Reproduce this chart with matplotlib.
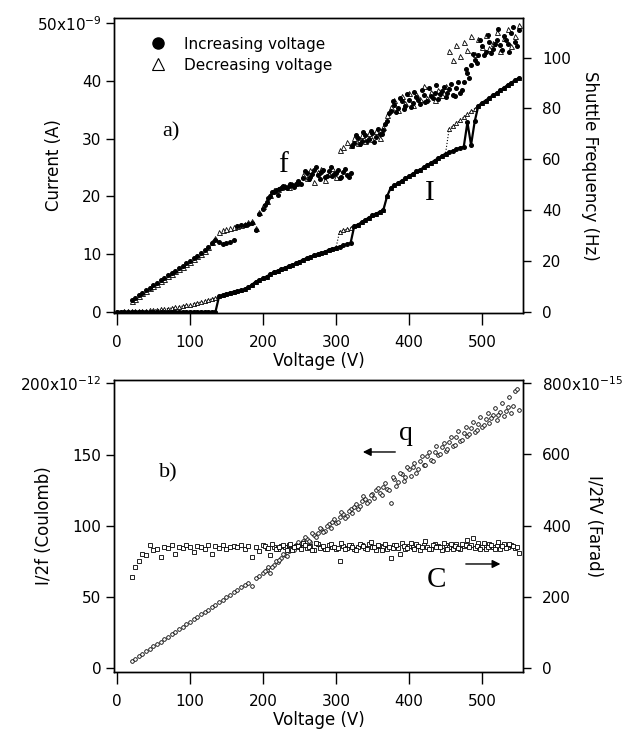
import numpy as np
import matplotlib
matplotlib.use('Agg')
import matplotlib.pyplot as plt
from matplotlib.lines import Line2D

plt.rcParams['font.family'] = 'DejaVu Sans'

# Voltage sweep steps (V)
volt_I = np.arange(0, 555, 5)        # current traces, 111 points
volt_f = np.arange(20, 555, 5)       # frequency, q and C, 107 points
volt_b = np.arange(202.5, 550, 5)    # second pass above 200 V, 70 points

# Current (nA), increasing voltage
I_up = [0.0] * 28 + [
    2.7, 2.9, 3.1, 3.3, 3.45, 3.6, 3.75, 3.9, 4.2, 4.7, 5.2, 5.5, 5.8, 6.1, 6.5, 6.9,
    7.1, 7.4, 7.6, 7.9, 8.1, 8.4, 8.7, 9.0, 9.3, 9.5, 9.8, 10.0, 10.2, 10.4, 10.7, 10.9, 11.1,
    11.3, 11.5, 11.7, 11.9,
    14.8, 15.1, 15.5, 15.9, 16.3, 16.7, 17.0, 17.3, 17.7,
    20.0, 21.5, 21.9, 22.3, 22.7, 23.1, 23.5, 23.9, 24.3, 24.6, 25.0, 25.4, 25.8, 26.2, 26.6, 27.0, 27.4,
    27.6, 27.9, 28.2, 28.4, 28.6, 32.8, 28.9,
    33.0, 35.7, 36.2, 36.6, 37.1, 37.5, 37.9, 38.4, 38.8, 39.3, 39.7, 40.1, 40.5]

# Current (nA), decreasing voltage
I_dn = [
    0.0, 0.02, 0.04, 0.06, 0.08, 0.1, 0.13, 0.16, 0.2, 0.24, 0.29, 0.34, 0.4, 0.47,
    0.55, 0.64, 0.74, 0.85, 0.97, 1.1, 1.23, 1.37, 1.52, 1.68, 1.85, 2.03, 2.22, 2.45,
    2.7, 2.9, 3.1, 3.3, 3.45, 3.6, 3.75, 3.9, 4.2, 4.7, 5.2, 5.5, 5.8, 6.1, 6.5, 6.9,
    7.1, 7.4, 7.6, 7.9, 8.1, 8.4, 8.7, 9.0, 9.3, 9.5, 9.8, 10.0, 10.2, 10.4, 10.7, 10.9, 11.1,
    13.9, 14.1, 14.3, 14.5, 14.8, 15.1, 15.5, 15.9, 16.3, 16.7, 17.0, 17.3, 17.7,
    20.0, 21.5, 21.9, 22.3, 22.7, 23.1, 23.5, 23.9, 24.3, 24.6, 25.0, 25.4, 25.8, 26.2, 26.6, 27.0, 27.4,
    31.7, 32.2, 32.7, 33.2, 33.7, 34.2, 34.7, 35.2, 35.7, 36.2, 36.6, 37.1, 37.5, 37.9,
    38.4, 38.8, 39.3, 39.7, 40.1, 40.5]

# Shuttle frequency (Hz), increasing voltage
f_up = [
    4.4, 5.3, 6.4, 7.4, 8.3, 9.4, 10.3, 11.2, 12.3, 13.1, 14.2, 15.1, 16.0, 17.0, 17.9,
    19.0, 19.8, 20.9, 22.0, 23.0, 24.2, 25.3, 26.8,
    28.3, 27.2, 26.6, 27.0, 27.5, 28.0, 33.5, 34.0, 34.2, 34.6, 35.0, 32.0, 38.5, 40.5,
    43.0, 45.5, 47.2, 46.0, 48.8, 49.2, 49.4, 49.9, 50.3, 50.8, 52.5, 54.5, 53.0, 55.8,
    53.6, 54.9, 52.8, 55.5, 53.4, 54.7, 52.6, 55.1, 53.8, 54.6,
    66.5, 68.2, 67.0, 69.4, 68.1, 70.2, 68.8, 69.9, 71.5, 75.0,
    79.0, 81.5, 80.2, 82.8, 81.0, 83.5, 82.1, 84.6, 81.9, 85.2, 83.0, 84.8, 86.1, 83.7,
    86.9, 84.5, 87.6, 85.3, 88.0, 86.2, 90.5, 93.8, 96.9, 99.0, 101.2, 104.5, 102.3,
    106.0, 103.4, 107.1, 104.8, 108.6, 105.2, 109.5, 106.3, 110.8]

# Shuttle frequency (Hz), increasing voltage, second pass (volt_b)
f_up_b = [
    42.0, 44.8, 47.0, 47.8, 48.3, 49.5, 48.6, 50.2, 49.0, 51.3,
    50.2, 55.2, 52.1, 54.3, 56.8, 52.0, 55.9, 53.2, 57.0, 54.0,
    55.6, 53.1, 56.3, 52.9, 65.2, 69.5, 65.9, 70.8, 67.3, 71.2,
    66.9, 72.0, 70.1, 73.8, 78.1, 83.0, 78.6, 84.1, 79.9, 85.5,
    80.7, 86.3, 83.4, 87.2, 82.5, 88.0, 84.0, 89.1, 85.6, 88.3,
    86.0, 89.6, 84.9, 90.2, 87.4, 95.6, 92.0, 101.5, 98.0, 106.8,
    100.9, 109.0, 101.7, 105.4, 111.2, 103.0, 106.9, 102.4, 112.0, 104.6]

# Shuttle frequency (Hz), decreasing voltage
f_dn = [
    4.0, 5.0, 6.0, 7.1, 8.0, 9.1, 10.0, 11.0, 12.0, 12.9, 13.9, 14.9, 15.8, 16.8, 17.7,
    18.7, 19.6, 20.6, 21.7, 22.7, 24.0, 25.6, 27.2,
    29.0, 31.5, 32.2, 32.5, 33.0, 33.3, 33.8, 34.1, 34.5, 35.2, 35.8, 33.0, 39.2, 41.5,
    43.6, 46.0, 48.0, 48.4, 48.9, 49.6, 49.2, 50.1, 50.6, 51.0, 53.8, 52.4, 55.6, 51.2,
    54.8, 56.2, 51.9, 54.2, 56.6, 52.8,
    63.8, 64.9, 66.6, 65.4, 68.5, 66.3, 69.6, 67.1, 70.5, 67.8, 70.9, 68.4, 72.6, 77.5,
    80.5, 83.2, 79.5, 84.7, 82.0, 86.2, 81.4, 85.6, 83.8, 88.8, 84.0, 86.5, 83.2, 87.4,
    85.1, 89.0,
    102.5, 99.0, 104.8, 100.5, 106.2, 103.1, 108.4, 101.6, 107.3, 104.0, 109.1, 103.6,
    105.9, 110.2, 102.8, 107.9, 111.4, 104.4, 108.7, 113.0]

# I/2f (pC)
q = [
    4.9, 6.7, 8.4, 10.0, 11.9, 13.5, 15.3, 17.0, 18.6, 20.5, 22.1, 23.9, 25.5, 27.3, 29.0,
    30.8, 32.4, 34.3, 35.9, 37.8, 39.3, 41.2, 42.8, 44.6, 46.3, 48.0, 49.8, 51.4, 53.3,
    54.9, 56.7, 58.2, 60.1,
    57.5, 63.5, 65.0, 67.1, 69.0, 66.8, 72.6, 74.4, 77.1, 79.6, 82.3, 84.0, 86.7, 85.2,
    89.4, 90.8, 88.6, 93.5, 95.1, 97.8, 96.2, 101.3, 103.0, 101.8, 106.4, 108.2, 107.0,
    111.6, 113.4, 112.1, 117.3, 119.0, 117.6, 122.4, 124.8,
    123.2, 127.5, 126.0, 116.0, 132.8, 130.4, 136.1, 134.5, 139.8, 141.5, 137.2, 145.6,
    143.0, 148.9, 146.3, 152.0, 149.4, 155.3, 152.8, 158.6, 156.1, 162.0, 159.3, 165.2,
    162.7, 168.4, 166.0, 171.5, 169.1, 174.8, 172.0, 177.6, 174.3, 180.2, 177.0, 183.5,
    179.4, 194.5, 181.5]

# I/2f (pC), second pass (volt_b)
q_b = [
    68.5, 70.9, 71.4, 75.2, 76.0, 80.1, 79.0, 84.6, 83.2, 88.9,
    87.0, 92.3, 89.5, 94.8, 92.1, 98.6, 95.4, 100.2, 98.7, 105.1,
    102.6, 109.5, 105.8, 110.3, 109.2, 115.4, 114.0, 120.6, 116.2, 121.9,
    119.3, 126.4, 121.7, 129.8, 125.0, 133.9, 127.6, 137.4, 131.2, 141.6,
    135.0, 144.3, 140.1, 149.0, 142.7, 151.5, 145.8, 155.9, 150.1, 158.0,
    153.7, 162.4, 157.0, 166.5, 160.2, 169.6, 164.1, 172.9, 167.5, 176.3,
    171.0, 179.2, 175.6, 183.0, 178.1, 186.4, 180.9, 190.2, 184.3, 196.0]

# I/2fV (fF)
C = [
    255, 285, 300, 322, 318, 345, 332, 336, 312, 340,
    338, 345, 322, 341, 337, 346, 339, 327, 344, 340,
    335, 347, 320, 342, 338, 345, 336, 341, 344, 339,
    347, 335, 342, 312, 340, 330, 345, 338, 318, 341,
    336, 343, 339, 346, 331, 342, 340, 352, 337, 344,
    333, 348, 339, 335, 345, 341, 336, 300, 343, 338,
    347, 334, 341, 345, 337, 350, 339, 332, 344, 341,
    336, 309, 346, 338, 352, 334, 343, 340, 348, 331,
    345, 339, 336, 350, 342, 333, 347, 340, 336, 349,
    335, 343, 360, 345, 337, 352, 341, 334, 348, 339,
    344, 336, 350, 341, 346, 338, 323]

# I/2fV (fF), second pass (volt_b)
C_b = [
    344, 337, 349, 335, 341, 346, 333, 350, 339, 343,
    336, 347, 340, 332, 351, 338, 344, 335, 349, 341,
    337, 353, 334, 346, 340, 331, 348, 342, 336, 355,
    339, 345, 333, 350, 341, 337, 347, 322, 344, 338,
    351, 336, 343, 340, 356, 335, 346, 339, 341, 353,
    334, 348, 342, 337, 350, 345, 339, 366, 343, 336,
    352, 340, 347, 335, 355, 342, 338, 349, 344, 339]

volt_ticks = [0, 100, 200, 300, 400, 500]
serif = 'Liberation Serif'
TICK = 11
LAB = 12


def style(ax, right=False):
    ax.tick_params(direction='out', length=6, width=1, labelsize=TICK, pad=3)
    ax.tick_params(axis='x', length=8.5, pad=7)
    if right:
        ax.tick_params(axis='y', pad=8)
    for s in ax.spines.values():
        s.set_linewidth(1)


fig = plt.figure(figsize=(6.35, 7.29), dpi=100)

# ---- a) current and shuttle frequency
ax1 = fig.add_axes([0.1795, 0.5706, 0.644, 0.4047])
ax1b = ax1.twinx()
ax1.plot(volt_I, I_dn, ls=':', lw=0.8, color='k', marker='^', ms=3.0,
         mfc='white', mec='k', mew=0.6)
ax1.plot(volt_I, I_up, ls='-', lw=1.6, color='k', marker='o', ms=2.6)
ax1b.plot(volt_f, f_dn, ls='none', marker='^', ms=3.6, mfc='white', mec='k', mew=0.6)
ax1b.plot(volt_f, f_up, ls='none', marker='o', ms=2.6, color='k')
ax1b.plot(volt_b, f_up_b, ls='none', marker='o', ms=2.6, color='k')

ax1.set_xlim(-4, 556)
ax1.set_ylim(-0.23, 50.9)
ax1b.set_ylim(-0.6, 115.6)
ax1.set_xticks(volt_ticks)
ax1.set_yticks([0, 10, 20, 30, 40, 50])
ax1.set_yticklabels(['0', '10', '20', '30', '40', r'50x10$^{-9}$'])
ax1b.set_yticks([0, 20, 40, 60, 80, 100])
style(ax1)
style(ax1b, right=True)
ax1.set_xlabel('Voltage (V)', fontsize=LAB, labelpad=2)
ax1.set_ylabel('Current (A)', fontsize=LAB)
ax1.yaxis.set_label_coords(-0.125, 0.5)
ax1b.set_ylabel('Shuttle Frequency (Hz)', fontsize=LAB, rotation=270)
ax1b.yaxis.set_label_coords(1.185, 0.5)

handles = [Line2D([], [], ls='none', marker='o', ms=8, color='k'),
           Line2D([], [], ls='none', marker='^', ms=8, mfc='white', mec='k', mew=0.8)]
ax1.legend(handles, ['Increasing voltage', 'Decreasing voltage'], loc='upper left',
           bbox_to_anchor=(0.074, 0.958), frameon=False, fontsize=11,
           handlelength=1.0, handletextpad=1.2, labelspacing=0.4, borderaxespad=0)

ax1.text(74, 31.2, 'a)', fontsize=16, family=serif, ha='center', va='center')
ax1.text(227, 24.2, 'f', fontsize=21, family=serif, ha='center', va='baseline')
ax1.text(429, 19.4, 'I', fontsize=21, family=serif, ha='center', va='baseline')

# ---- b) charge per cycle and capacitance
ax2 = fig.add_axes([0.1795, 0.0782, 0.644, 0.4005])
ax2b = ax2.twinx()
ax2.plot(volt_f, q, ls='none', marker='o', ms=2.6, mfc='white', mec='k', mew=0.6)
ax2.plot(volt_b, q_b, ls='none', marker='o', ms=2.6, mfc='white', mec='k', mew=0.6)
ax2b.plot(volt_f, C, ls='none', marker='s', ms=2.4, mfc='white', mec='k', mew=0.6)
ax2b.plot(volt_b, C_b, ls='none', marker='s', ms=2.4, mfc='white', mec='k', mew=0.6)

ax2.set_xlim(-4, 556)
ax2.set_ylim(-2.6, 202.3)
ax2b.set_ylim(-10.4, 809)
ax2.set_xticks(volt_ticks)
ax2.set_yticks([0, 50, 100, 150, 200])
ax2.set_yticklabels(['0', '50', '100', '150', r'200x10$^{-12}$'])
ax2b.set_yticks([0, 200, 400, 600, 800])
ax2b.set_yticklabels(['0', '200', '400', '600', r'800x10$^{-15}$'])
style(ax2)
style(ax2b, right=True)
ax2.set_xlabel('Voltage (V)', fontsize=LAB, labelpad=2)
ax2.set_ylabel('I/2f (Coulomb)', fontsize=LAB)
ax2.yaxis.set_label_coords(-0.149, 0.5)
ax2b.set_ylabel('I/2fV (Farad)', fontsize=LAB, rotation=270)
ax2b.yaxis.set_label_coords(1.195, 0.5)

ax2.text(71, 137, 'b)', fontsize=16, family=serif, ha='center', va='center')
ax2.text(396, 160, 'q', fontsize=20, family=serif, ha='center', va='baseline')
ax2.text(438, 57, 'C', fontsize=21, family=serif, ha='center', va='baseline')
ax2.annotate('', xy=(333, 151.8), xytext=(385, 151.8),
             arrowprops=dict(arrowstyle='-|>', lw=1, color='k', mutation_scale=12))
ax2.annotate('', xy=(529, 73.2), xytext=(474, 73.2),
             arrowprops=dict(arrowstyle='-|>', lw=1, color='k', mutation_scale=12))

fig.savefig('out.png', dpi=100)
